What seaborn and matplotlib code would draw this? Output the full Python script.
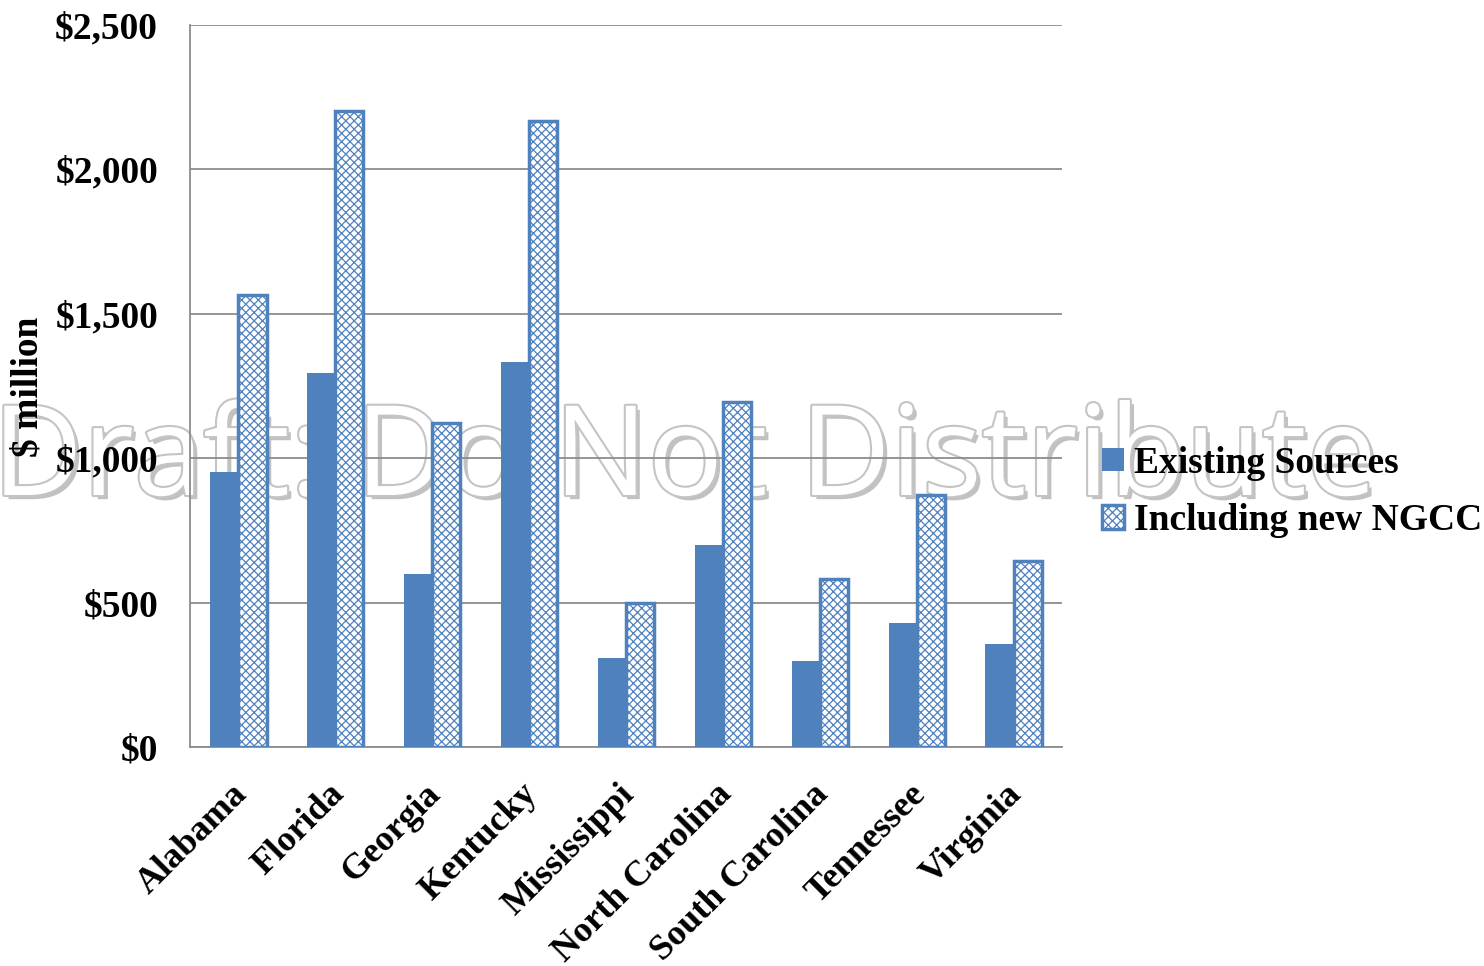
import pandas as pd
import matplotlib.pyplot as plt
import matplotlib.patheffects as pe
from matplotlib.ticker import FuncFormatter, MultipleLocator
from matplotlib.transforms import ScaledTranslation
import seaborn as sns

states = ["Alabama", "Florida", "Georgia", "Kentucky", "Mississippi",
          "North Carolina", "South Carolina", "Tennessee", "Virginia"]
existing = [952, 1295, 599, 1333, 308, 700, 298, 429, 357]
with_ngcc = [1565, 2202, 1122, 2168, 499, 1195, 582, 873, 644]
series = ["Existing Sources", "Including new NGCC"]

df = pd.DataFrame({
    "state": states * 2,
    "value": existing + with_ngcc,
    "series": [series[0]] * len(states) + [series[1]] * len(states),
})

sns.set_style("white")
plt.rcParams["font.family"] = ["Liberation Serif", "DejaVu Serif"]
plt.rcParams["font.weight"] = "bold"
plt.rcParams["text.color"] = "black"
plt.rcParams["xtick.color"] = "black"
plt.rcParams["ytick.color"] = "black"
plt.rcParams["hatch.linewidth"] = 0.9

blue = "#4F81BD"
grid = "#8C8C8C"
fs = 27

fig = plt.figure(figsize=(14.84, 9.66), dpi=100)
ax = fig.add_axes([190 / 1484, 1 - 747 / 966, (1062 - 190) / 1484, (747 - 25) / 966])
ax.set_facecolor("none")

sns.barplot(data=df, x="state", y="value", hue="series", palette=[blue, "white"],
            width=0.58, saturation=1, ax=ax, legend=False, zorder=3)

for bar in ax.containers[0]:
    bar.set_edgecolor(blue)
    bar.set_linewidth(0)
for bar in ax.containers[1]:
    bar.set_facecolor("white")
    bar.set_edgecolor(blue)
    bar.set_hatch("xxxx")
    bar.set_linewidth(2.5)

# watermark behind the chart
fig.text(685 / 1484, 1 - 495 / 966, "Draft: Do Not Distribute", fontsize=90,
         family="Open Sans", weight="normal", color="white", ha="center",
         va="baseline", zorder=-1,
         path_effects=[pe.SimplePatchShadow(offset=(3, -3), shadow_rgbFace="#999999", alpha=0.6),
                       pe.withStroke(linewidth=3, foreground="#c4c4c4")])

ax.set_ylim(0, 2500)
ax.set_xlim(-0.5, len(states) - 0.5)
ax.yaxis.set_major_locator(MultipleLocator(500))
ax.yaxis.set_major_formatter(FuncFormatter(lambda v, p: f"${v:,.0f}"))
ax.grid(axis="y", color=grid, linewidth=1.3, zorder=0)
ax.set_axisbelow(True)

for side in ["top", "right"]:
    ax.spines[side].set_visible(False)
for side in ["left", "bottom"]:
    ax.spines[side].set_color(grid)
    ax.spines[side].set_linewidth(1.3)

ax.set_xticks(range(len(states)))
ax.set_xticklabels(states, rotation=45, ha="right", rotation_mode="anchor",
                   fontsize=26, fontweight="bold")
ax.set_xticks([i - 0.5 for i in range(len(states) + 1)], minor=True)
ax.tick_params(axis="x", which="major", length=0, pad=22)
ax.tick_params(axis="x", which="minor", length=8, color=grid, width=1.3)
ax.tick_params(axis="y", length=7, color=grid, width=1.3, labelsize=fs, pad=16,
               labelcolor="black")
for lbl in ax.get_yticklabels():
    lbl.set_fontweight("bold")
shift = ScaledTranslation(-8 / 100, 0, fig.dpi_scale_trans)
for lbl in ax.get_xticklabels():
    lbl.set_transform(lbl.get_transform() + shift)

ax.set_xlabel("")
ax.set_ylabel("")
fig.text(28 / 1484, 1 - 387 / 966, "$ million", rotation=90, fontsize=fs,
         fontweight="bold", ha="center", va="center")

handles = [ax.containers[0][0], ax.containers[1][0]]
leg = fig.legend(handles, series, loc="center left",
                 bbox_to_anchor=(1068 / 1484, 1 - 492 / 966), frameon=False,
                 handlelength=0.6, handleheight=0.6,
                 handletextpad=0.25, labelspacing=0.6,
                 prop={"weight": "bold", "size": fs})

fig.savefig("out.png", dpi=100)
